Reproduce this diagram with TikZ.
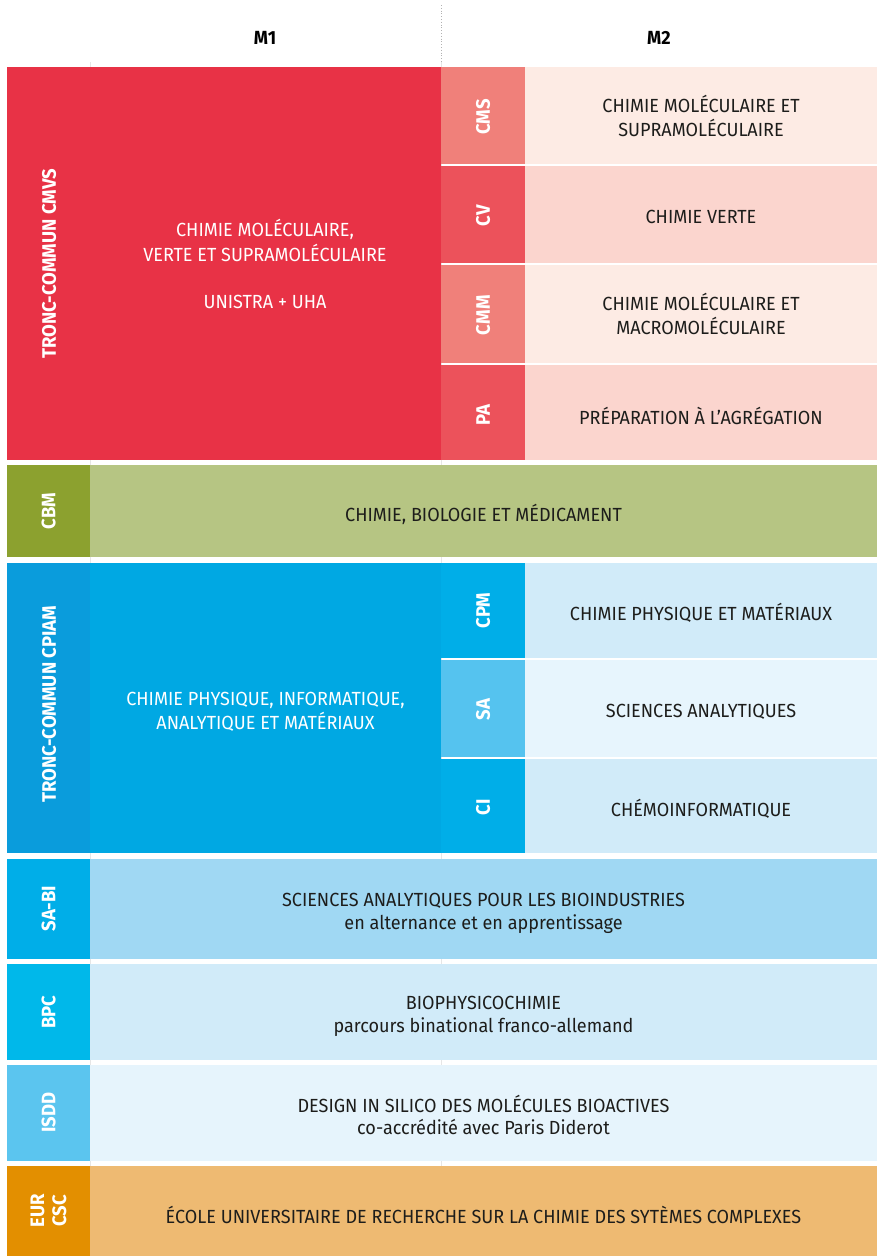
\documentclass[tikz,border=0pt]{standalone}
\usepackage{fontspec}
\setmainfont{Fira Sans}[FakeStretch=0.95]
\definecolor{tred}{HTML}{E83246}
\definecolor{redA}{HTML}{F0807A}
\definecolor{redB}{HTML}{EC525B}
\definecolor{pinkA}{HTML}{FDEBE4}
\definecolor{pinkB}{HTML}{FBD5CE}
\definecolor{gdark}{HTML}{8CA12F}
\definecolor{glight}{HTML}{B6C583}
\definecolor{bleft}{HTML}{0A9CDC}
\definecolor{bmain}{HTML}{00A8E3}
\definecolor{bA}{HTML}{00AEE8}
\definecolor{bB}{HTML}{55C3EF}
\definecolor{lbA}{HTML}{D1EBF9}
\definecolor{lbB}{HTML}{E7F5FD}
\definecolor{sabiL}{HTML}{A0D8F3}
\definecolor{bpcD}{HTML}{00B8EA}
\definecolor{isddD}{HTML}{5BC5EF}
\definecolor{isddL}{HTML}{E6F4FC}
\definecolor{eurD}{HTML}{E38F00}
\definecolor{eurL}{HTML}{EEBA72}
\definecolor{txt}{HTML}{1D1D1B}
\definecolor{grid}{HTML}{E6E6E6}
\tikzset{
  body/.style={text=txt, font=\fontsize{19}{24}\selectfont, align=center, inner sep=0pt},
  tight/.style={font=\fontsize{19}{22.8}\selectfont},
  wbody/.style={body, text=white},
  vlab/.style={text=white, font=\bfseries\fontsize{19.5}{22}\selectfont, rotate=90, align=center, inner sep=0pt},
  head/.style={text=black, font=\bfseries\fontsize{19}{22}\selectfont, inner sep=0pt},
}
\newcommand{\cellbox}[6]{\fill[#6] (#2,#3) rectangle (#4,#5); \coordinate (#1) at ({(#2+#4)/2},{(#3+#5)/2});}
\begin{document}
\begin{tikzpicture}[x=1pt,y=-1pt]
\useasboundingbox[fill=white] (0,0) rectangle (882,1256);
% faint guides
\draw[grid, line width=0.8pt] (90,62) -- (90,1256);
\draw[grid, line width=0.8pt] (441,62) -- (441,1256);
\draw[gray!60, dotted, line width=0.8pt] (441,5) -- (441,63);
% header
\node[head] (m1) at (265,38) {M1};
\node[head] (m2) at (659,38) {M2};
% CMVS block
\cellbox{cmvs}{7}{67}{441}{460}{tred}
\cellbox{cms}{441}{67}{525}{164}{redA}
\cellbox{cmsR}{525}{67}{877}{164}{pinkA}
\cellbox{cv}{441}{165.5}{525}{263}{redB}
\cellbox{cvR}{525}{165.5}{877}{263}{pinkB}
\cellbox{cmm}{441}{264.5}{525}{363}{redA}
\cellbox{cmmR}{525}{264.5}{877}{363}{pinkA}
\cellbox{pa}{441}{364.5}{525}{460}{redB}
\cellbox{paR}{525}{364.5}{877}{460}{pinkB}
\node[vlab] (cmvsL) at (49,264) {TRONC-COMMUN CMVS};
\node[wbody, font=\fontsize{19}{24.5}\selectfont] (cmvsT) at (265,264) {CHIMIE MOLÉCULAIRE,\\VERTE ET SUPRAMOLÉCULAIRE\\[22.5pt]UNISTRA + UHA};
\node[vlab] (cmsL) at ([yshift=-1.5pt]cms) {CMS};
\node[vlab] (cvL) at ([yshift=-1.5pt]cv) {CV};
\node[vlab] (cmmL) at ([yshift=-1.5pt]cmm) {CMM};
\node[vlab] (paL) at ([yshift=-3pt]pa) {PA};
\node[body] (cmsT) at (cmsR) {CHIMIE MOLÉCULAIRE ET\\SUPRAMOLÉCULAIRE};
\node[body] (cvT) at (701,217) {CHIMIE VERTE};
\node[body] (cmmT) at (cmmR) {CHIMIE MOLÉCULAIRE ET\\MACROMOLÉCULAIRE};
\node[body] (paT) at (701,415.5) {PRÉPARATION À L’AGRÉGATION};
% CBM
\cellbox{cbm}{7}{465}{90}{557}{gdark}
\cellbox{cbmR}{90}{465}{877}{557}{glight}
\node[vlab] (cbmL) at (cbm) {CBM};
\node[body] (cbmT) at (483.5,514) {CHIMIE, BIOLOGIE ET MÉDICAMENT};
% CPIAM
\cellbox{cpiam}{7}{563}{90}{853}{bleft}
\cellbox{cpiamM}{90}{563}{441}{853}{bmain}
\cellbox{cpm}{441}{563}{525}{658}{bA}
\cellbox{cpmR}{525}{563}{877}{658}{lbA}
\cellbox{sa}{441}{659.5}{525}{757}{bB}
\cellbox{saR}{525}{659.5}{877}{757}{lbB}
\cellbox{ci}{441}{758.5}{525}{853}{bA}
\cellbox{ciR}{525}{758.5}{877}{853}{lbA}
\node[vlab] (cpiamL) at (49,704) {TRONC-COMMUN CPIAM};
\node[wbody] (cpiamT) at (265.5,712) {CHIMIE PHYSIQUE, INFORMATIQUE,\\ANALYTIQUE ET MATÉRIAUX};
\node[vlab] (cpmL) at (cpm) {CPM};
\node[vlab] (saL) at ([yshift=-1.5pt]sa) {SA};
\node[vlab] (ciL) at ([yshift=-1.5pt]ci) {CI};
\node[body] (cpmT) at (701,612.5) {CHIMIE PHYSIQUE ET MATÉRIAUX};
\node[body] (saT) at (701,712) {SCIENCES ANALYTIQUES};
\node[body] (ciT) at (701,808.5) {CHÉMOINFORMATIQUE};
% SA-BI
\cellbox{sabi}{7}{858.5}{90}{958.5}{bA}
\cellbox{sabiR}{90}{858.5}{877}{958.5}{sabiL}
\node[vlab] (sabiLb) at (sabi) {SA-BI};
\node[body, tight] (sabiT) at (483.5,913) {SCIENCES ANALYTIQUES POUR LES BIOINDUSTRIES\\en alternance et en apprentissage};
% BPC
\cellbox{bpc}{7}{964}{90}{1060}{bpcD}
\cellbox{bpcR}{90}{964}{877}{1060}{lbA}
\node[vlab] (bpcL) at (bpc) {BPC};
\node[body, tight] (bpcT) at (483.5,1016) {BIOPHYSICOCHIMIE\\parcours binational franco-allemand};
% ISDD
\cellbox{isdd}{7}{1065}{90}{1160.5}{isddD}
\cellbox{isddR}{90}{1065}{877}{1160.5}{isddL}
\node[vlab] (isddL) at (isdd) {ISDD};
\node[body, tight] (isddT) at (483.5,1115) {DESIGN IN SILICO DES MOLÉCULES BIOACTIVES\\co-accrédité avec Paris Diderot};
% EUR CSC
\cellbox{eur}{7}{1166}{90}{1256}{eurD}
\cellbox{eurR}{90}{1166}{877}{1256}{eurL}
\node[vlab] (eurLb) at (eur) {EUR\\CSC};
\node[body] (eurT) at (483.5,1215) {ÉCOLE UNIVERSITAIRE DE RECHERCHE SUR LA CHIMIE DES SYTÈMES COMPLEXES};
\end{tikzpicture}
\end{document}
